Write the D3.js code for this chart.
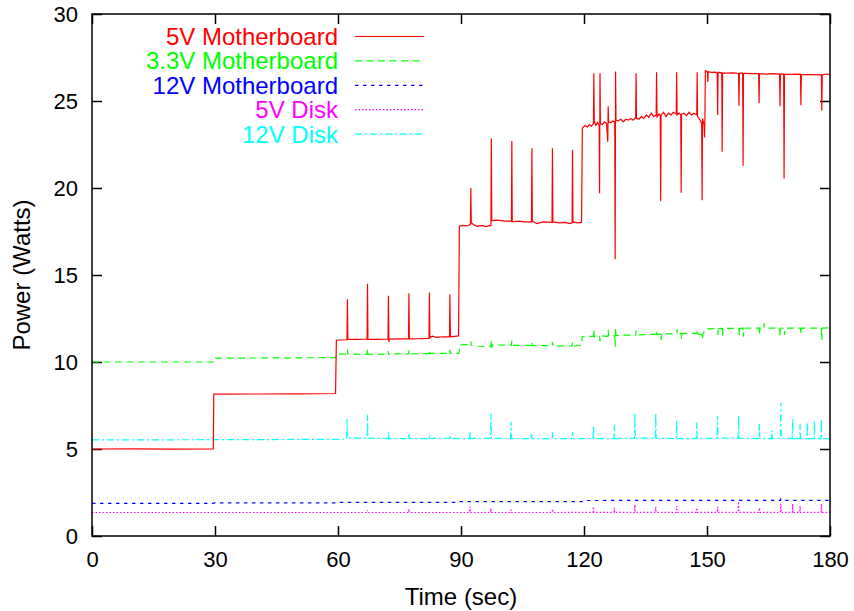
<!DOCTYPE html>
<html>
<head>
<meta charset="utf-8">
<script src="https://cdn.jsdelivr.net/npm/d3@7"></script>
<style>
  body { margin: 0; background: #fff; }
  svg text { font-family: "Liberation Sans", Arial, Helvetica, sans-serif; }
</style>
</head>
<body>
<svg id="chart"></svg>
<script>
const xTicks = [0, 30, 60, 90, 120, 150, 180];
const yTicks = [0, 5, 10, 15, 20, 25, 30];
const seriesNames = ["5V Motherboard", "3.3V Motherboard", "12V Motherboard", "5V Disk", "12V Disk"];

// [time (sec), power (W)]
const mb5v = [
  [0,5.0],[10,5.01],[20,4.99],[29.6,5.0],[29.7,8.15],[40,8.16],[50,8.17],[59.4,8.19],[59.6,11.25],
  [62.2,11.28],[62.3,13.6],[62.4,11.3],[65,11.3],[67.1,11.32],[67.2,14.5],[67.3,11.3],[70,11.3],
  [72.2,11.32],[72.3,13.8],[72.4,11.15],[72.5,11.32],[75,11.33],[77.2,11.33],[77.3,13.95],[77.4,11.33],
  [80,11.34],[82.2,11.36],[82.3,14.0],[82.4,11.4],[83,11.48],[84,11.42],[85.5,11.45],[87.2,11.44],
  [87.3,13.9],[87.4,11.45],[89.4,11.5],[89.6,17.8],[90.5,17.85],[91.5,17.83],[92.3,17.9],[92.4,20.0],
  [92.5,18.0],[93.2,17.88],[94,17.8],[95,17.85],[96,17.78],[97.3,17.85],[97.4,22.85],[97.5,18.12],
  [99,18.15],[100.5,18.1],[102.3,18.1],[102.4,22.7],[102.5,18.05],[104,18.1],[105.5,18.05],[107.2,18.05],
  [107.3,22.28],[107.4,18.1],[108.5,17.95],[110,18.05],[112.2,18.02],[112.3,22.28],[112.4,18.05],
  [114,18.0],[115.5,18.02],[116.5,17.95],[117.1,18.0],[117.2,22.2],[117.3,18.05],[118.5,18.0],
  [119.4,18.02],[119.6,23.45],
  [120.3,23.6],[120.8,23.5],[121.3,23.65],[121.8,23.55],[122.3,23.7],[122.4,26.6],[122.5,23.8],
  [122.9,23.6],[123.3,23.75],[123.7,23.6],[123.8,19.7],[123.9,26.6],[124.0,23.7],[124.5,23.65],
  [125,23.8],[125.5,23.7],[125.8,22.66],[125.9,24.7],[126.0,23.8],[126.5,23.75],[127,23.85],
  [127.5,23.8],[127.6,15.9],[127.7,26.7],[127.8,23.9],[128.3,23.85],[129,23.95],[129.6,23.8],
  [130.2,23.95],[130.8,23.9],[131.4,24.0],[132,23.9],[132.6,24.05],[132.7,26.6],[132.8,24.0],
  [133.4,23.95],[134,24.1],[134.6,24.0],[135.2,24.2],[135.8,24.05],[136.4,24.3],[137,24.1],
  [137.6,24.2],[137.7,26.65],[137.8,24.1],[138.3,24.25],[138.6,24.15],[138.7,19.25],[138.8,24.2],
  [139.4,24.35],[140,24.1],[140.6,24.3],[141.2,24.2],[141.8,24.35],[142.5,24.25],[142.6,26.65],
  [142.7,24.2],[143.2,24.3],[143.6,24.2],[143.7,19.73],[143.8,24.25],[144.4,24.3],[145,24.15],
  [145.6,24.35],[146.2,24.2],[146.8,24.3],[147.5,24.2],[147.6,26.65],[147.7,24.1],[148.2,23.95],
  [148.7,23.7],[148.8,19.3],[148.9,24.0],[149.3,23.6],[149.4,22.9],[149.5,24.1],[149.6,26.74],
  [150.1,26.7],[150.2,26.1],[150.3,26.68],[151,26.65],[152,26.66],[152.5,26.6],[152.6,24.2],
  [152.7,26.65],[153.6,26.62],[153.7,22.09],[153.8,26.62],[155,26.6],[156.5,26.62],[157.7,26.58],
  [157.8,24.73],[157.9,26.6],[158.7,26.6],[158.8,21.28],[158.9,26.6],[160.5,26.57],[162.6,26.58],
  [162.7,24.87],[162.8,26.57],[164.5,26.55],[166,26.57],[167.7,26.55],[167.8,24.7],[167.9,26.55],
  [168.7,26.55],[168.8,20.55],[168.9,26.55],[170.5,26.53],[172.8,26.55],[172.9,24.75],[173,26.53],
  [175,26.52],[177.9,26.5],[178,24.45],[178.1,26.5],[179,26.55],[180,26.52]
];

const mb33v = [
  [0,10.0],[29.6,10.0],[29.7,10.22],[59.4,10.25],[59.6,10.45],[62.2,10.45],[62.3,10.72],[62.4,10.45],
  [67.1,10.44],[67.2,10.75],[67.3,10.44],[72.2,10.46],[72.3,10.62],[72.4,10.4],[72.5,10.46],
  [77.2,10.47],[77.3,10.66],[77.4,10.47],[82.2,10.48],[82.3,10.68],[82.4,10.49],[87.2,10.5],
  [87.3,10.7],[87.4,10.5],[89.5,10.5],[89.7,10.98],[92.3,11.0],[92.4,11.18],[92.5,10.96],[94,10.92],
  [95.5,10.9],[97.3,10.92],[97.4,11.2],[97.5,10.8],[97.6,10.98],[102.3,10.97],[102.4,11.22],
  [102.5,10.96],[107.2,10.95],[107.3,11.15],[107.4,10.94],[112.2,10.94],[112.3,11.15],[112.4,10.93],
  [117.1,10.92],[117.2,11.12],[117.3,10.92],[119.4,10.95],[119.6,11.45],[122.3,11.48],[122.4,11.85],
  [122.5,11.45],[123.8,11.47],[123.9,11.2],[124,11.5],[125.8,11.48],[125.9,11.85],[126,11.5],
  [127.5,11.5],[127.6,10.88],[127.7,11.95],[127.8,11.52],[130,11.55],[132.6,11.55],[132.7,11.8],
  [132.8,11.55],[137.6,11.6],[137.7,11.82],[137.8,11.58],[138.7,11.6],[138.8,11.25],[138.9,11.62],
  [142.6,11.62],[142.7,11.9],[142.8,11.62],[143.7,11.63],[143.8,11.3],[143.9,11.64],[147.5,11.65],
  [147.6,11.85],[147.7,11.62],[148.8,11.55],[148.9,11.3],[149,11.6],[149.6,11.9],[152.6,11.92],
  [152.7,11.55],[152.8,11.92],[153.7,11.93],[153.8,11.5],[153.9,11.93],[157.8,11.93],[157.9,11.55],
  [158,11.93],[158.8,11.94],[158.9,11.45],[159,11.94],[162.7,11.95],[162.8,11.55],[162.9,11.95],
  [163.8,11.95],[163.9,12.22],[164,11.95],[167.7,11.95],[167.8,11.5],[167.9,11.95],[168.8,11.94],
  [168.9,11.55],[169,11.94],[172.8,11.95],[172.9,11.6],[173,11.95],[177.9,11.95],[178,11.26],
  [178.1,11.95],[180,11.96]
];

const mb12v = [
  [0,1.88],[29.6,1.88],[29.8,1.9],[59.5,1.9],[59.7,1.93],[89.5,1.93],[89.7,1.97],[119.5,1.97],
  [119.7,2.04],[150,2.05],[167.9,2.05],[168,2.12],[168.1,2.05],[180,2.05]
];

const disk5v = [
  [0,1.35],[67.1,1.35],[67.2,1.48],[67.3,1.35],[77.2,1.35],[77.3,1.55],[77.4,1.35],[92.1,1.35],
  [92.2,1.68],[92.3,1.35],[97.2,1.35],[97.3,1.58],[97.4,1.35],[102.1,1.35],[102.2,1.5],[102.3,1.35],
  [112.2,1.35],[112.3,1.55],[112.4,1.35],[122.2,1.36],[122.3,1.68],[122.4,1.36],[127.3,1.36],
  [127.4,1.62],[127.5,1.36],[132.3,1.36],[132.4,1.8],[132.5,1.36],[137.4,1.36],[137.5,1.68],
  [137.6,1.36],[142.5,1.36],[142.6,1.72],[142.7,1.36],[147.4,1.36],[147.5,1.62],[147.6,1.36],
  [152.5,1.36],[152.6,1.68],[152.7,1.36],[157.6,1.36],[157.7,1.97],[157.8,1.36],[162.7,1.36],
  [162.8,1.62],[162.9,1.36],[167.9,1.36],[168,1.85],[168.1,1.36],[170.8,1.36],[170.9,1.85],
  [171,1.36],[172.6,1.36],[172.7,1.7],[172.8,1.36],[177.8,1.36],[177.9,1.85],[178,1.36],[180,1.36]
];

const disk12v = [
  [0,5.52],[20,5.53],[40,5.54],[62.1,5.56],[62.2,6.72],[62.3,5.65],[67.1,5.62],[67.2,6.97],[67.3,5.62],
  [72.2,5.6],[72.3,6.0],[72.4,5.6],[77.2,5.6],[77.3,5.9],[77.4,5.6],[82.2,5.6],[82.3,5.8],[82.4,5.6],
  [87.2,5.62],[87.3,5.8],[87.4,5.6],[92.1,5.6],[92.2,6.03],[92.3,5.6],[97.2,5.62],[97.3,7.05],
  [97.4,5.62],[102.1,5.6],[102.2,6.57],[102.3,5.6],[107.1,5.6],[107.2,5.9],[107.3,5.6],[112.2,5.6],
  [112.3,5.97],[112.4,5.6],[117.1,5.6],[117.2,5.97],[117.3,5.6],[122.2,5.6],[122.3,6.38],[122.4,5.6],
  [127.3,5.6],[127.4,6.4],[127.5,5.6],[132.3,5.62],[132.4,7.05],[132.5,5.62],[137.4,5.62],
  [137.5,7.05],[137.6,5.62],[142.5,5.6],[142.6,6.63],[142.7,5.6],[147.4,5.6],[147.5,6.53],
  [147.6,5.6],[152.5,5.62],[152.6,6.9],[152.7,5.62],[157.6,5.62],[157.7,6.93],[157.8,5.62],
  [162.7,5.6],[162.8,6.45],[162.9,5.6],[165.7,5.6],[165.8,6.07],[165.9,5.6],[167.9,5.62],[168.0,7.66],
  [168.1,5.62],[170.8,5.6],[170.9,6.73],[171.0,5.6],[172.6,5.6],[172.7,6.45],[172.8,5.6],[174.4,5.6],
  [174.5,6.55],[174.6,5.6],[176.1,5.6],[176.2,6.63],[176.3,5.6],[177.8,5.6],[177.9,6.76],[178.0,5.6],
  [180,5.6]
];

const width = 854;
const height = 611;
const margin = { top: 14, right: 24, bottom: 75, left: 92 };

const series = [
  { name: seriesNames[0], data: mb5v, color: "#ff0000", dash: null },
  { name: seriesNames[1], data: mb33v, color: "#00ff00", dash: "7,4.5" },
  { name: seriesNames[2], data: mb12v, color: "#0000ff", dash: "3.5,4.5" },
  { name: seriesNames[3], data: disk5v, color: "#ff00ff", dash: "1.5,2" },
  { name: seriesNames[4], data: disk12v, color: "#00ffff", dash: "7,3,2,3" }
];

const svg = d3.select("#chart")
  .attr("width", width)
  .attr("height", height)
  .style("background", "#fff");

const xScale = d3.scaleLinear().domain([0, 180]).range([margin.left, width - margin.right]);
const yScale = d3.scaleLinear().domain([0, 30]).range([height - margin.bottom, margin.top]);

svg.append("defs").append("clipPath").attr("id", "plot")
  .append("rect")
  .attr("x", margin.left).attr("y", margin.top)
  .attr("width", width - margin.left - margin.right)
  .attr("height", height - margin.top - margin.bottom);

// axes, ticks pointing inward on all four sides
const tickFont = "22px";
const labelFont = "24px";
const axisBottomG = svg.append("g")
  .attr("transform", `translate(0, ${height - margin.bottom})`)
  .call(d3.axisBottom(xScale).tickValues(xTicks).tickSize(-10).tickPadding(14));
const axisTopG = svg.append("g")
  .attr("transform", `translate(0, ${margin.top})`)
  .call(d3.axisTop(xScale).tickValues(xTicks).tickSize(-10).tickFormat(""));
const axisLeftG = svg.append("g")
  .attr("transform", `translate(${margin.left}, 0)`)
  .call(d3.axisLeft(yScale).tickValues(yTicks).tickSize(-10).tickPadding(14));
const axisRightG = svg.append("g")
  .attr("transform", `translate(${width - margin.right}, 0)`)
  .call(d3.axisRight(yScale).tickValues(yTicks).tickSize(-10).tickFormat(""));

[axisBottomG, axisTopG, axisLeftG, axisRightG].forEach(g => {
  g.select(".domain").remove();
  g.selectAll(".tick line").attr("stroke", "#000").attr("stroke-width", 1.5);
  g.selectAll(".tick text").attr("fill", "#000").style("font-size", tickFont);
});
axisBottomG.selectAll(".tick text").attr("dy", "0.75em");

const line = d3.line()
  .x(d => xScale(d[0]))
  .y(d => yScale(d[1]));

const plot = svg.append("g").attr("clip-path", "url(#plot)");
series.slice().reverse().forEach(s => {
  plot.append("path")
    .datum(s.data)
    .attr("fill", "none")
    .attr("stroke", s.color)
    .attr("stroke-width", 1.2)
    .attr("stroke-dasharray", s.dash)
    .attr("d", line);
});

svg.append("rect")
  .attr("x", margin.left).attr("y", margin.top)
  .attr("width", width - margin.left - margin.right)
  .attr("height", height - margin.top - margin.bottom)
  .attr("fill", "none")
  .attr("stroke", "#000")
  .attr("stroke-width", 1.5);

// legend
const legend = svg.append("g");
series.forEach((s, i) => {
  const cy = 36.5 + i * 24.4;
  legend.append("text")
    .attr("x", 338)
    .attr("y", cy)
    .attr("dy", "0.35em")
    .attr("text-anchor", "end")
    .attr("fill", s.color)
    .style("font-size", labelFont)
    .text(s.name);
  legend.append("line")
    .attr("x1", 355).attr("x2", 424)
    .attr("y1", cy).attr("y2", cy)
    .attr("stroke", s.color)
    .attr("stroke-width", 1.2)
    .attr("stroke-dasharray", s.dash);
});

svg.append("text")
  .attr("x", (margin.left + width - margin.right) / 2)
  .attr("y", 597)
  .attr("dy", "0.35em")
  .attr("text-anchor", "middle")
  .style("font-size", labelFont)
  .text("Time (sec)");

svg.append("text")
  .attr("transform", `translate(22, ${(margin.top + height - margin.bottom) / 2}) rotate(-90)`)
  .attr("dy", "0.35em")
  .attr("text-anchor", "middle")
  .style("font-size", labelFont)
  .text("Power (Watts)");
</script>
</body>
</html>
